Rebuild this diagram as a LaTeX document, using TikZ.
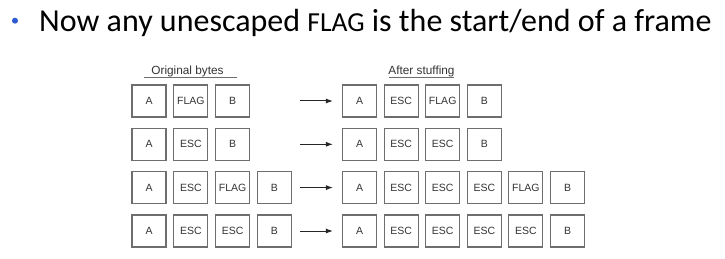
\documentclass[tikz,border=0pt]{standalone}
\usepackage{fontspec}
\setmainfont{Carlito}
\newfontfamily\boxfont{Liberation Sans}
\usetikzlibrary{arrows.meta}
\definecolor{bulletblue}{RGB}{45,90,210}
\definecolor{boxgray}{RGB}{110,110,110}
\tikzset{
  byte/.style={draw=boxgray, line width=1.1pt, minimum width=34pt, minimum height=32pt, inner sep=0pt, font=\boxfont\fontsize{10.5}{12}\selectfont, text=black!80},
  hdr/.style={font=\boxfont\fontsize{11.8}{13}\selectfont, text=black!80, inner sep=0pt},
  arr/.style={draw=black!85, line width=1pt, -{Latex[length=7pt,width=5pt]}, shorten >=9pt},
}
\begin{document}
\begin{tikzpicture}[x=1pt,y=-1pt]
\useasboundingbox (0,0) rectangle (725,259);
% title
\node[circle, fill=bulletblue, inner sep=0pt, minimum size=6pt] (bul) at (15,20.7) {};
\node[anchor=base west, inner sep=0pt, font=\fontsize{32}{36}\selectfont] (title) at (39,31.7) {Now any unescaped {\fontsize{27.5}{30}\selectfont FLAG} is the start/end of a frame};
% headers
\node[hdr] (ob) at (187.5,71.5) {Original bytes};
\coordinate (obl) at (144,77.5);
\coordinate (obr) at (237,77.5);
\draw[boxgray, line width=0.8pt] (obl) -- (obr);
\node[hdr] (as) at (421.5,71.5) {After stuffing};
\coordinate (asl) at (389,77.5);
\coordinate (asr) at (454,77.5);
\draw[boxgray, line width=0.8pt] (asl) -- (asr);
% row 1
\node[byte] (l1a) at (149,101) {A};
\node[byte] (l1b) at (190.8,101) {FLAG};
\node[byte] (l1c) at (232.6,101) {B};
\node[byte] (r1a) at (359.5,101) {A};
\node[byte] (r1b) at (401.1,101) {ESC};
\node[byte] (r1c) at (442.7,101) {FLAG};
\node[byte] (r1d) at (484.3,101) {B};
\coordinate (s1) at (300,101);
\draw[arr] (s1) -- (r1a);
% row 2
\node[byte] (l2a) at (149,144.3) {A};
\node[byte] (l2b) at (190.8,144.3) {ESC};
\node[byte] (l2c) at (232.6,144.3) {B};
\node[byte] (r2a) at (359.5,144.3) {A};
\node[byte] (r2b) at (401.1,144.3) {ESC};
\node[byte] (r2c) at (442.7,144.3) {ESC};
\node[byte] (r2d) at (484.3,144.3) {B};
\coordinate (s2) at (300,144.3);
\draw[arr] (s2) -- (r2a);
% row 3
\node[byte] (l3a) at (149,187.6) {A};
\node[byte] (l3b) at (190.8,187.6) {ESC};
\node[byte] (l3c) at (232.6,187.6) {FLAG};
\node[byte] (l3d) at (274.4,187.6) {B};
\node[byte] (r3a) at (359.5,187.6) {A};
\node[byte] (r3b) at (401.1,187.6) {ESC};
\node[byte] (r3c) at (442.7,187.6) {ESC};
\node[byte] (r3d) at (484.3,187.6) {ESC};
\node[byte] (r3e) at (525.9,187.6) {FLAG};
\node[byte] (r3f) at (567.5,187.6) {B};
\coordinate (s3) at (300,187.6);
\draw[arr] (s3) -- (r3a);
% row 4
\node[byte] (l4a) at (149,231) {A};
\node[byte] (l4b) at (190.8,231) {ESC};
\node[byte] (l4c) at (232.6,231) {ESC};
\node[byte] (l4d) at (274.4,231) {B};
\node[byte] (r4a) at (359.5,231) {A};
\node[byte] (r4b) at (401.1,231) {ESC};
\node[byte] (r4c) at (442.7,231) {ESC};
\node[byte] (r4d) at (484.3,231) {ESC};
\node[byte] (r4e) at (525.9,231) {ESC};
\node[byte] (r4f) at (567.5,231) {B};
\coordinate (s4) at (300,231);
\draw[arr] (s4) -- (r4a);
\end{tikzpicture}
\end{document}
